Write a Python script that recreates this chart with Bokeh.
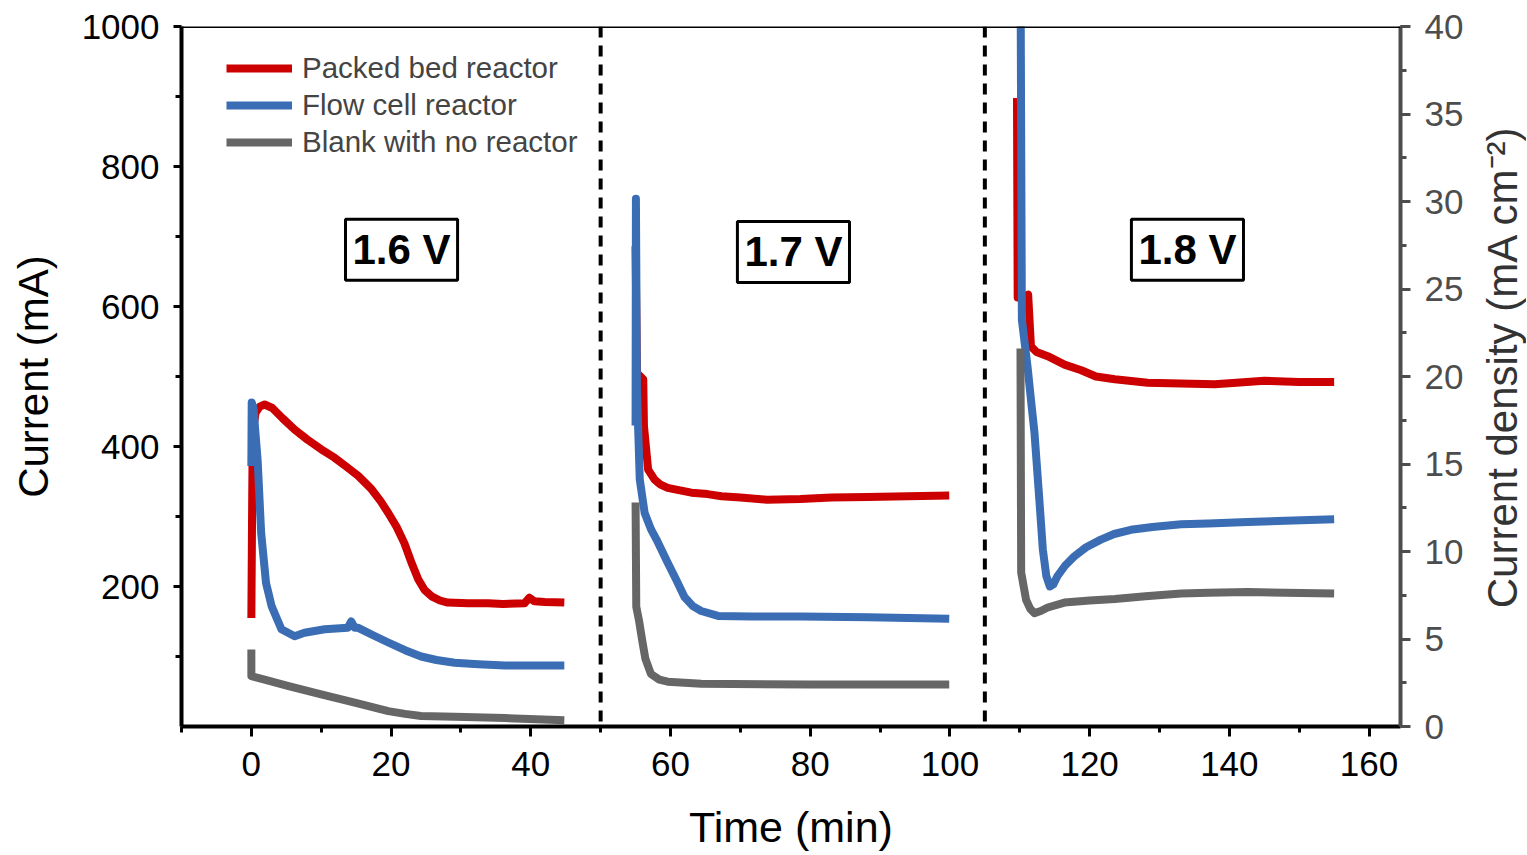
import math
from bokeh.plotting import figure
from bokeh.layouts import row
from bokeh.models import (Range1d, LinearAxis, Span, Label, Legend, LegendItem,
                          SingleIntervalTicker, FixedTicker)
from bokeh.core.properties import value
from bokeh.embed import file_html
from bokeh.resources import INLINE
import numpy as np

NAN = float("nan")

# ---------------- data ----------------
packed_t = [0.0, 0.1, 0.2, 0.6, 1.2, 1.9, 3.0, 4.5, 6.2, 8.0, 10.0, 11.9, 13.5, 15.3,
            17.2, 18.5, 19.6, 20.8, 21.9, 23.0, 23.9, 24.8, 25.8, 27.0, 28.1, 31.0,
            33.9, 36.0, 39.1, 39.8, 40.5, 42.0, 44.8,
            NAN,
            55.0, 55.2, 56.1, 56.2, 56.8, 57.7, 58.5, 59.6, 61.0, 63.0, 65.3,
            67.3, 70.0, 73.8, 78.6, 83.0, 88.2, 94.0, 99.9,
            NAN,
            109.6, 109.7, 110.6, 111.2, 111.6, 112.4, 114.0, 116.4, 118.8, 120.9,
            123.6, 128.3, 133.0, 137.9, 141.0, 145.0, 150.0, 155.0]
packed_i = [155, 300, 420, 448, 457, 460, 455, 440, 424, 410, 396, 384, 372, 358,
            339, 322, 305, 285, 262, 232, 210, 195, 186, 180, 177, 176,
            176, 175, 176, 184, 179, 178, 177,
            NAN,
            686, 505, 496, 429, 367, 353, 346, 341, 338, 334, 332,
            329, 327, 324, 325, 327, 328, 329, 330,
            NAN,
            898, 613, 614, 617, 543, 535, 529, 517, 509, 500,
            496, 491, 490, 489, 491, 494, 492, 492]

flow_t = [0.0, 0.05, 0.3, 0.9, 1.4, 2.1, 2.9, 4.3, 6.2, 7.6, 10.5, 13.8, 14.3, 14.8,
          15.3, 17.5, 19.6, 22.0, 24.3, 26.5, 29.1, 32.5, 36.3, 40.5, 44.8,
          NAN,
          55.0, 55.05, 55.2, 55.6, 56.3, 57.2, 58.0, 59.6, 60.8, 62.0, 63.2, 64.4,
          66.8, 71.6, 78.7, 88.3, 99.9,
          NAN,
          110.1, 110.3, 111.1, 111.6, 112.1, 112.8, 113.3, 113.8, 114.3, 114.8,
          115.4, 116.5, 117.8, 119.5, 121.6, 123.5, 125.9, 129.0, 133.1, 137.0,
          142.6, 148.0, 155.0]
flow_i = [372, 463, 455, 380, 277, 205, 172, 139, 129, 134, 139, 141, 150, 141,
          141, 130, 120, 109, 100, 95, 91, 89, 87, 87, 87,
          NAN,
          430, 754, 480, 353, 305, 282, 267, 234, 210, 185, 172, 165,
          158, 157, 157, 156, 154,
          NAN,
          1100, 581, 515, 467, 420, 324, 253, 215, 200, 203,
          215, 230, 243, 256, 267, 275, 281, 285, 289, 290,
          292, 294, 296]

blank_t = [0.0, 0.0, 1.9, 5.2, 10.0, 14.8, 19.6, 22.0, 24.3, 29.1, 36.3, 44.8,
           NAN,
           55.0, 55.1, 55.5, 56.0, 56.4, 57.2, 58.4, 59.6, 64.4, 80.0, 99.9,
           NAN,
           110.1, 110.2, 110.9, 111.5, 112.1, 113.0, 114.0, 116.4, 120.0, 123.6,
           128.0, 133.1, 137.0, 142.6, 148.0, 155.0]
blank_i = [110, 72, 67, 58, 46, 34, 22, 18, 15, 14, 12, 9,
           NAN,
           320, 171, 151, 120, 97, 75, 67, 64, 61, 60, 60,
           NAN,
           540, 220, 181, 168, 162, 165, 170, 177, 180, 182,
           186, 190, 191, 192, 191, 190]

series_names = ["Packed bed reactor", "Flow cell reactor", "Blank with no reactor"]
series_colors = ["#cc0000", "#3a6db3", "#666666"]

separators_t = [50, 105]
voltage_labels = ["1.6 V", "1.7 V", "1.8 V"]
voltage_label_t = [21.5, 77.6, 134.0]
voltage_label_i = [681, 678, 681]

left_ticks = [200, 400, 600, 800, 1000]
left_minor_ticks = [100, 300, 500, 700, 900]

right_title = "Current density (mA cm⁻²)"

FONT = "Liberation Sans"

p = figure(width=1478, height=854, output_backend="svg", toolbar_location=None,
           x_range=Range1d(-10, 164.5), y_range=Range1d(0, 1000),
           min_border_left=181, min_border_right=78, min_border_top=26,
           min_border_bottom=128)
p.outline_line_color = None
p.grid.visible = False
p.background_fill_color = "white"

# lines
renderers = []
for t, i, c in zip([packed_t, flow_t, blank_t], [packed_i, flow_i, blank_i], series_colors):
    r = p.line(np.array(t, dtype=float), np.array(i, dtype=float), line_color=c,
               line_width=8, line_join="round", line_cap="butt")
    renderers.append(r)

# separators
for s in separators_t:
    p.add_layout(Span(location=s, dimension="height", line_color="black",
                      line_width=4, line_dash="11 8"))

# top frame line
p.add_layout(Span(location=1000, dimension="width", line_color="black", line_width=3))

# voltage boxes
for txt, tx, ty in zip(voltage_labels, voltage_label_t, voltage_label_i):
    p.add_layout(Label(x=tx, y=ty, text=txt, text_font=FONT, text_font_size="42px",
                       text_font_style="bold", text_color="black",
                       text_align="center", text_baseline="middle",
                       border_line_color="black", border_line_width=3,
                       background_fill_color="white", padding=7))

# axes styling
xa = p.xaxis[0]
xa.ticker = SingleIntervalTicker(interval=20, num_minor_ticks=2)
xa.axis_label = "Time (min)"
ya = p.yaxis[0]
ya.ticker = FixedTicker(ticks=left_ticks, minor_ticks=left_minor_ticks)
ya.axis_label = "Current (mA)"
for ax, tick_out in [(xa, 10), (ya, 8)]:
    ax.axis_line_width = 4
    ax.axis_line_color = "black"
    ax.major_tick_line_width = 3
    ax.minor_tick_line_width = 3
    ax.major_tick_in = 0
    ax.major_tick_out = tick_out
    ax.minor_tick_in = 0
    ax.minor_tick_out = 6
    ax.major_label_text_font = FONT
    ax.major_label_text_font_size = "35px"
    ax.major_label_text_color = "black"
    ax.axis_label_text_font = FONT
    ax.axis_label_text_font_style = "normal"
    ax.axis_label_text_color = "black"
xa.axis_label_text_font_size = "43px"
ya.axis_label_text_font_size = "42px"
xa.major_label_standoff = 15
xa.axis_label_standoff = 24
ya.major_label_standoff = 14
ya.axis_label_standoff = 22

p.extra_y_ranges = {"density": Range1d(0, 40)}
ra = LinearAxis(y_range_name="density",
                ticker=SingleIntervalTicker(interval=5, num_minor_ticks=2))
ra.axis_line_width = 4
ra.axis_line_color = "#4d4d4d"
ra.major_tick_line_color = "#4d4d4d"
ra.minor_tick_line_color = "#4d4d4d"
ra.major_tick_line_width = 3
ra.minor_tick_line_width = 3
ra.major_tick_in = 0
ra.major_tick_out = 10
ra.minor_tick_in = 0
ra.minor_tick_out = 6
ra.major_label_text_font = FONT
ra.major_label_text_font_size = "35px"
ra.major_label_text_color = "#4d4d4d"
ra.major_label_standoff = 14
p.add_layout(ra, "right")

legend = Legend(items=[LegendItem(label=n, renderers=[r]) for n, r in zip(series_names, renderers)],
                location=(45, 567), label_text_font=FONT, label_text_font_size="29.5px",
                glyph_width=66, glyph_height=30, label_height=30, label_standoff=10,
                spacing=3, padding=0, margin=0, border_line_color=None,
                background_fill_alpha=0)
p.add_layout(legend)

# narrow strip holding the right-axis title, reading bottom-to-top
p2 = figure(width=48, height=854, output_backend="svg", toolbar_location=None,
            x_range=Range1d(-1, 1), y_range=Range1d(-1.028, 0.972),
            x_axis_location=None, y_axis_location=None,
            min_border_left=0, min_border_right=0, min_border_top=0, min_border_bottom=0)
p2.outline_line_color = None
p2.grid.visible = False
p2.text(x=[0], y=[0], text=[right_title], angle=math.pi / 2,
        text_font=value(FONT), text_font_size="42px", text_color="#333333",
        text_align="center", text_baseline="middle")

layout = row(p, p2, spacing=0)
open("out.html", "w").write(file_html(layout, INLINE))
